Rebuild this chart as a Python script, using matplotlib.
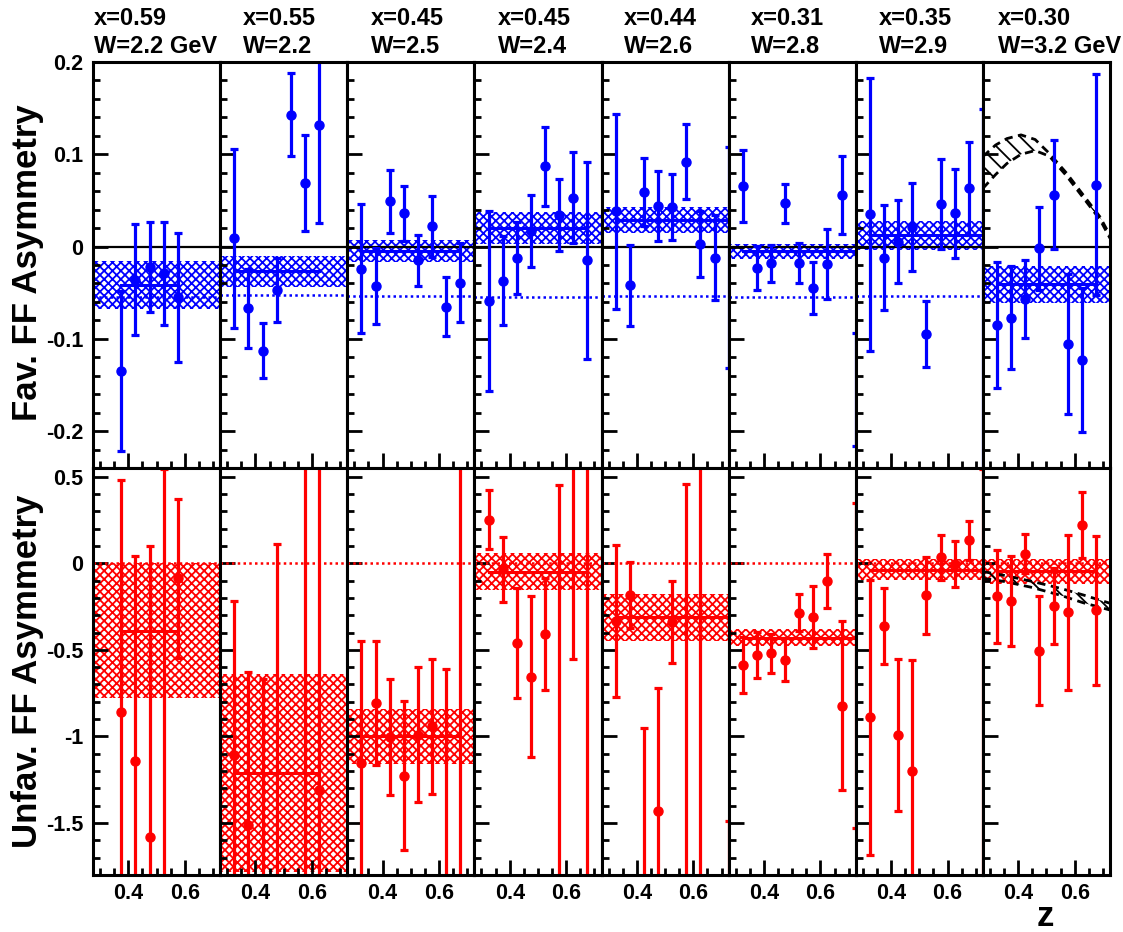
import numpy as np
import matplotlib
matplotlib.use("Agg")
import matplotlib.pyplot as plt
from matplotlib.ticker import FixedLocator, FixedFormatter, MultipleLocator

plt.rcParams['font.family'] = ['Liberation Sans', 'DejaVu Sans']
plt.rcParams['font.weight'] = 'bold'
plt.rcParams['hatch.linewidth'] = 1.3

# ---------------- data ----------------
x_bj = ['0.59', '0.55', '0.45', '0.45', '0.44', '0.31', '0.35', '0.30']
w_lab = ['2.2 GeV', '2.2', '2.5', '2.4', '2.6', '2.8', '2.9', '3.2 GeV']

z_full = [0.325, 0.375, 0.425, 0.475, 0.525, 0.575, 0.625, 0.675]
z_p1 = [0.375, 0.425, 0.475, 0.525, 0.575]
z_p2 = [0.325, 0.375, 0.425, 0.475, 0.525, 0.575, 0.625]
z_edge = 0.725

# favoured asymmetry (top row)
fav_z = [z_p1, z_p2, z_full, z_full, z_full, z_full, z_full, z_full]
fav_val = [
    [-0.135, -0.036, -0.022, -0.029, -0.055],
    [0.009, -0.067, -0.113, -0.047, 0.143, 0.069, 0.132],
    [-0.024, -0.043, 0.049, 0.036, -0.015, 0.022, -0.065, -0.039],
    [-0.059, -0.037, -0.012, 0.017, 0.087, 0.034, 0.053, -0.015],
    [0.038, -0.042, 0.059, 0.044, 0.043, 0.092, 0.003, -0.012],
    [0.066, -0.023, -0.018, 0.047, -0.018, -0.045, -0.019, 0.056],
    [0.035, -0.012, 0.005, 0.021, -0.095, 0.046, 0.036, 0.063],
    [-0.085, -0.077, -0.057, -0.002, 0.056, -0.106, -0.123, 0.067],
]
fav_err = [
    [0.087, 0.060, 0.049, 0.056, 0.070],
    [0.097, 0.043, 0.030, 0.035, 0.045, 0.052, 0.107],
    [0.070, 0.041, 0.034, 0.030, 0.028, 0.033, 0.032, 0.043],
    [0.098, 0.048, 0.039, 0.039, 0.043, 0.039, 0.049, 0.107],
    [0.106, 0.044, 0.037, 0.038, 0.036, 0.041, 0.036, 0.046],
    [0.039, 0.024, 0.020, 0.021, 0.022, 0.028, 0.038, 0.042],
    [0.148, 0.057, 0.045, 0.048, 0.036, 0.049, 0.048, 0.050],
    [0.068, 0.056, 0.042, 0.045, 0.059, 0.076, 0.078, 0.120],
]
# points of the next z bin, sitting on the right frame (mostly clipped)
fav_edge_val = [None, None, None, None, -0.012, -0.155, -0.050, None]
fav_edge_err = [None, None, None, None, 0.120, 0.061, 0.199, None]
fav_fit = [-0.042, -0.027, -0.005, 0.020, 0.029, -0.005, 0.012, -0.041]
fav_fit_err = [0.026, 0.017, 0.012, 0.017, 0.014, 0.008, 0.0155, 0.020]
fav_model = [-0.055, -0.053, -0.054, -0.055, -0.054, -0.055, -0.054, None]

# unfavoured asymmetry (bottom row)
unf_z = [z_p1, [0.325, 0.375, 0.425, 0.475, 0.575, 0.625], z_full, z_full,
         z_p2, z_full, z_full, z_full]
unf_val = [
    [-0.86, -1.14, -1.58, -2.30, -0.088],
    [-1.11, -1.51, -2.00, -2.30, -2.50, -1.31],
    [-1.154, -0.806, -1.003, -1.226, -0.990, -0.942, -2.00, -2.50],
    [0.252, -0.034, -0.462, -0.654, -0.410, -2.00, 1.00, -2.50],
    [-0.335, -0.185, -2.00, -1.429, -0.338, -2.00, -3.00],
    [-0.588, -0.529, -0.519, -0.556, -0.286, -0.309, -0.104, -0.822],
    [-0.889, -0.360, -0.990, -1.200, -0.186, 0.034, -0.004, 0.132],
    [-0.190, -0.217, 0.056, -0.504, -0.248, -0.284, 0.219, -0.272],
]
unf_err = [
    [1.34, 1.18, 1.68, 2.845, 0.46],
    [0.89, 0.88, 1.33, 2.41, 4.00, 2.00],
    [0.706, 0.358, 0.334, 0.428, 0.390, 0.388, 1.39, 3.10],
    [0.171, 0.188, 0.317, 0.465, 0.324, 2.45, 1.55, 3.20],
    [0.440, 0.190, 1.05, 0.708, 0.236, 2.46, 3.60],
    [0.162, 0.131, 0.112, 0.123, 0.108, 0.178, 0.156, 0.486],
    [0.793, 0.220, 0.438, 0.640, 0.224, 0.130, 0.135, 0.113],
    [0.268, 0.260, 0.114, 0.317, 0.219, 0.447, 0.190, 0.430],
]
unf_edge_val = [None, None, None, None, -2.00, -0.59, -0.70, None]
unf_edge_err = [None, None, None, None, 0.51, 0.94, 1.245, None]
unf_fit = [-0.39, -1.21, -1.00, -0.048, -0.313, -0.429, -0.037, -0.047]
unf_fit_err = [0.39, 0.57, 0.16, 0.106, 0.135, 0.048, 0.060, 0.072]
unf_model = [0.0] * 8

# theory band (last W bin)
theo_fav_z = [0.275, 0.32, 0.36, 0.41, 0.46, 0.51, 0.57, 0.61, 0.65, 0.69, 0.725]
theo_fav_hi = [0.0975, 0.110, 0.117, 0.121, 0.116, 0.101, 0.080, 0.064, 0.048, 0.032, 0.012]
theo_fav_lo = [0.063, 0.078, 0.090, 0.100, 0.104, 0.098, 0.077, 0.061, 0.045, 0.029, 0.009]
theo_unf_z = [0.275, 0.35, 0.45, 0.55, 0.63, 0.725]
theo_unf_hi = [-0.048, -0.070, -0.105, -0.145, -0.183, -0.231]
theo_unf_lo = [-0.087, -0.105, -0.140, -0.185, -0.228, -0.270]

# ---------------- layout ----------------
W, H = 1123, 932
fig = plt.figure(figsize=(W / 100, H / 100), dpi=100)
left0, right0 = 93, 1110
pw = (right0 - left0) / 8
rows = [(62, 468), (468, 875)]
xlim = (0.275, 0.725)
ylims = [(-0.24, 0.2), (-1.8, 0.55)]
colors = ['#0000ff', '#ff0000']
title_off = [1, 23, 23.3, 23.2, 22.3, 22.7, 23.3, 14.7]


def ax_at(i, r):
    t, b = rows[r]
    return fig.add_axes([(left0 + i * pw) / W, (H - b) / H, pw / W, (b - t) / H])


for r in range(2):
    if r == 0:
        zs, vals, errs = fav_z, fav_val, fav_err
        evals, eerrs = fav_edge_val, fav_edge_err
        fits, fiterrs, models = fav_fit, fav_fit_err, fav_model
        ymaj = [0.2, 0.1, 0.0, -0.1, -0.2]
        ylab = ['0.2', '0.1', '0', '-0.1', '-0.2']
        ymin = 0.02
    else:
        zs, vals, errs = unf_z, unf_val, unf_err
        evals, eerrs = unf_edge_val, unf_edge_err
        fits, fiterrs, models = unf_fit, unf_fit_err, unf_model
        ymaj = [0.5, 0.0, -0.5, -1.0, -1.5]
        ylab = ['0.5', '0', '-0.5', '-1', '-1.5']
        ymin = 0.1
    col = colors[r]
    for i in range(8):
        ax = ax_at(i, r)
        ax.set_xlim(*xlim)
        ax.set_ylim(*ylims[r])
        # fit band
        ax.fill_between(list(xlim), fits[i] - fiterrs[i], fits[i] + fiterrs[i],
                        facecolor='none', edgecolor=col, hatch='xxxx',
                        linewidth=0, zorder=1)
        zmax = max(zs[i]) if evals[i] is None else z_edge
        ax.plot([min(zs[i]), zmax], [fits[i], fits[i]], color=col, lw=2.2,
                zorder=2)
        # reference lines
        if r == 0:
            ax.axhline(0, color='black', lw=1.6, zorder=2)
        if models[i] is not None:
            ax.axhline(models[i], color=col, lw=1.8, ls=(0, (1, 1.3)), zorder=2)
        # theory
        if i == 7:
            tz = theo_fav_z if r == 0 else theo_unf_z
            thi = theo_fav_hi if r == 0 else theo_unf_hi
            tlo = theo_fav_lo if r == 0 else theo_unf_lo
            ax.fill_between(tz, tlo, thi, facecolor='none', edgecolor='black',
                            hatch='\\\\', linewidth=0, zorder=2)
            ax.plot(tz, thi, color='black', lw=2.0, ls=(0, (3, 2)), zorder=2)
            ax.plot(tz, tlo, color='black', lw=2.0, ls=(0, (3, 2)), zorder=2)
        # data
        ax.errorbar(zs[i], vals[i], yerr=errs[i], fmt='o', color=col, ms=6.5,
                    elinewidth=2.3, capsize=2.8, capthick=2.3, zorder=4)
        if evals[i] is not None:
            ax.errorbar([z_edge], [evals[i]], yerr=[eerrs[i]], fmt='none',
                        ecolor=col, elinewidth=2.3, capsize=2.8, capthick=2.3,
                        zorder=4)
        # frame & ticks
        for s in ax.spines.values():
            s.set_linewidth(2.2)
            s.set_zorder(6)
        ax.xaxis.set_major_locator(FixedLocator([0.4, 0.6]))
        ax.xaxis.set_minor_locator(MultipleLocator(0.05))
        ax.yaxis.set_major_locator(FixedLocator(ymaj))
        ax.yaxis.set_minor_locator(MultipleLocator(ymin))
        ax.tick_params(which='both', direction='in', top=False, right=False,
                       left=True, bottom=True, width=2.0, labelsize=15.5)
        ax.tick_params(which='major', length=10.5)
        ax.tick_params(which='minor', length=5)
        ax.tick_params(axis='y', pad=7)
        ax.tick_params(axis='x', pad=5.5)
        if i == 0:
            ax.yaxis.set_major_formatter(FixedFormatter(ylab))
        else:
            ax.set_yticklabels([])
        if r == 1:
            ax.xaxis.set_major_formatter(FixedFormatter(['0.4', '0.6']))
        else:
            ax.set_xticklabels([])
        for lab in ax.get_xticklabels() + ax.get_yticklabels():
            lab.set_fontweight('bold')
        if r == 0:
            xt = (left0 + i * pw + title_off[i]) / W
            fig.text(xt, (H - 25) / H, 'x=' + x_bj[i], fontsize=17,
                     fontweight='bold', ha='left', va='baseline')
            fig.text(xt, (H - 52.7) / H, 'W=' + w_lab[i], fontsize=17,
                     fontweight='bold', ha='left', va='baseline')

fig.text(27.5 / W, (H - 263) / H, 'Fav. FF Asymmetry', rotation=90,
         fontsize=25, fontweight='bold', ha='center', va='center')
fig.text(27.5 / W, (H - 671) / H, 'Unfav. FF Asymmetry', rotation=90,
         fontsize=25, fontweight='bold', ha='center', va='center')
fig.text(1045.5 / W, (H - 926) / H, 'z', fontsize=25, fontweight='bold',
         ha='center', va='baseline')

fig.savefig('out.png', dpi=100)
